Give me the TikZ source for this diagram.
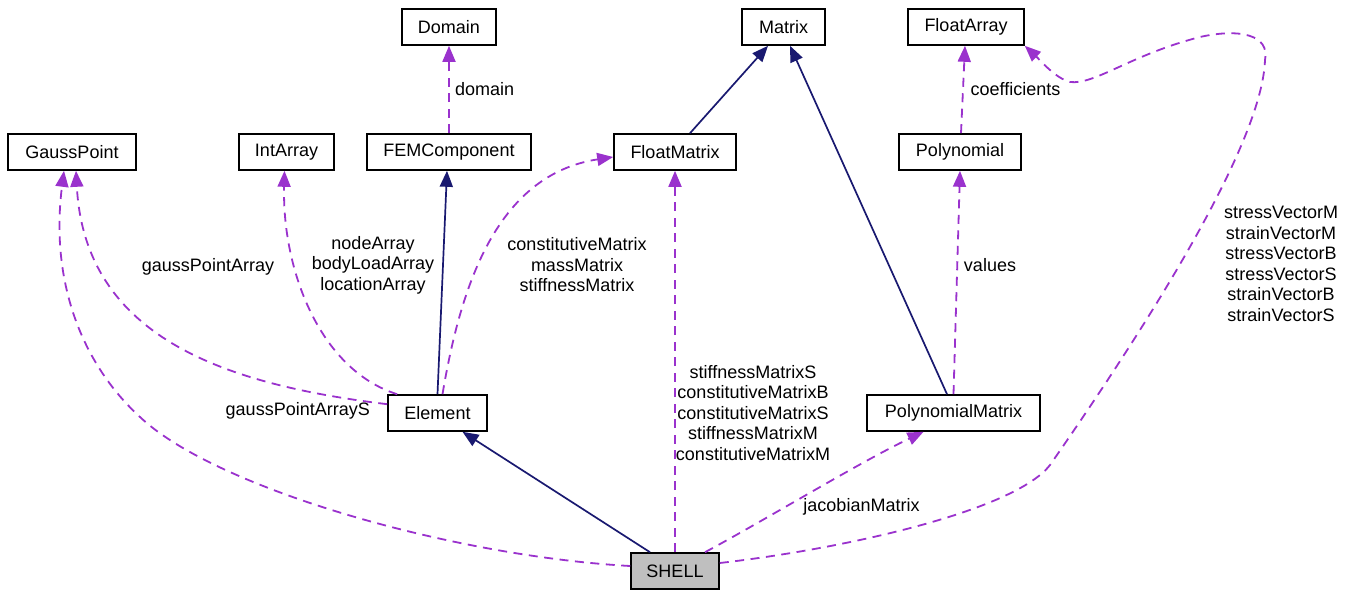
\documentclass[tikz,border=0pt]{standalone}
\usepackage{fontspec}
\setmainfont{Liberation Sans}
\usetikzlibrary{arrows.meta,calc}
\definecolor{assoc}{HTML}{9A32CD}
\definecolor{inher}{HTML}{191970}
\definecolor{shellgray}{HTML}{BFBFBF}
\begin{document}
\begin{tikzpicture}[x=1pt,y=-1pt,
  cls/.style={draw=black,line width=1.6pt,fill=white,minimum height=36pt,inner sep=0pt,font=\fontsize{18}{20.5}\selectfont},
  lbl/.style={font=\fontsize{18}{20.5}\selectfont,align=center,inner sep=0pt},
  usesrel/.style={draw=assoc,line width=1.8pt,dash pattern=on 9pt off 6.5pt,-{Triangle[length=16pt,width=13pt]}},
  inhrel/.style={draw=inher,line width=1.7pt,-{Triangle[length=16pt,width=13pt]}}]
\useasboundingbox (0,0) rectangle (1357,592);

% classes
\node[cls,minimum width=94pt]  (Domain)           at (449,27)    {Domain};
\node[cls,minimum width=83pt]  (Matrix)           at (783.5,27)  {Matrix};
\node[cls,minimum width=116pt] (FloatArray)       at (966,27)    {FloatArray};
\node[cls,minimum width=128pt] (GaussPoint)       at (72,152)    {GaussPoint};
\node[cls,minimum width=95pt]  (IntArray)         at (286.5,152) {IntArray};
\node[cls,minimum width=164pt] (FEMComponent)     at (449,152)   {FEMComponent};
\node[cls,minimum width=122pt] (FloatMatrix)      at (675,152)   {FloatMatrix};
\node[cls,minimum width=122pt] (Polynomial)       at (960,152)   {Polynomial};
\node[cls,minimum width=99pt]  (Element)          at (437.5,413) {Element};
\node[cls,minimum width=173pt] (PolynomialMatrix) at (953.5,413) {PolynomialMatrix};
\node[cls,minimum width=88pt,fill=shellgray] (SHELL) at (675,571) {SHELL};

% connectors
\draw[usesrel] (FEMComponent.north) -- (Domain.south);
\draw[inhrel] ($(FloatMatrix.north)+(15,0)$) -- ($(Matrix.south)+(-15.5,0)$);
\draw[inhrel] ($(PolynomialMatrix.north)+(-6.5,0)$) -- ($(Matrix.south)+(6.5,0)$);
\draw[usesrel] ($(Polynomial.north)+(1,0)$) -- ($(FloatArray.south)+(-1,0)$);
\draw[inhrel] (Element.north) -- ($(FEMComponent.south)+(-2,0)$);
\draw[usesrel] ($(Element.north west)+(0,10)$) .. controls (230,385) and (85,340) .. ($(GaussPoint.south)+(4,0)$);
\draw[usesrel] ($(SHELL.west)+(0,-5)$) .. controls (451,556) and (215,488) .. (140,417) .. controls (81,363) and (50,280) .. ($(GaussPoint.south)+(-8,0)$);
\draw[usesrel] ($(Element.north west)+(10,0)$) .. controls (320,370) and (282,270) .. ($(IntArray.south)+(-2,0)$);
\draw[usesrel] ($(Element.north)+(5,0)$) .. controls (460,290) and (495,175) .. ($(FloatMatrix.west)+(0,5)$);
\draw[usesrel] (SHELL.north) -- (FloatMatrix.south);
\draw[inhrel] ($(SHELL.north)+(-25,0)$) -- ($(Element.south)+(25,0)$);
\draw[usesrel] ($(SHELL.north)+(30,0)$) .. controls (765,520) and (860,462) .. ($(PolynomialMatrix.south)+(-30,0)$);
\draw[usesrel] (PolynomialMatrix.north) -- (Polynomial.south);
\draw[usesrel] ($(SHELL.east)+(0,-8)$) .. controls (850,548) and (1015,510) .. (1050,465) .. controls (1130,350) and (1262,150) .. (1265,60) .. controls (1270,35) and (1240,28) .. (1200,37) .. controls (1130,55) and (1095,85) .. (1070,82) .. controls (1055,78) and (1040,60) .. (FloatArray.south east);

% labels
\node[lbl,anchor=west] (lDomain) at (455,89) {domain};
\node[lbl] (lCoeff) at (1015.5,89) {coefficients};
\node[lbl] (lGauss) at (208,267) {gaussPointArray};
\node[lbl] (lNode) at (373,265) {nodeArray\\bodyLoadArray\\locationArray};
\node[lbl,anchor=east] (lGaussS) at (370,411) {gaussPointArrayS};
\node[lbl] (lConst) at (577,265) {constitutiveMatrix\\massMatrix\\stiffnessMatrix};
\node[lbl] (lStiff) at (753,413) {stiffnessMatrixS\\constitutiveMatrixB\\constitutiveMatrixS\\stiffnessMatrixM\\constitutiveMatrixM};
\node[lbl] (lJac) at (861.5,507) {jacobianMatrix};
\node[lbl] (lValues) at (990,265) {values};
\node[lbl] (lStress) at (1281,264) {stressVectorM\\strainVectorM\\stressVectorB\\stressVectorS\\strainVectorB\\strainVectorS};
\end{tikzpicture}
\end{document}
